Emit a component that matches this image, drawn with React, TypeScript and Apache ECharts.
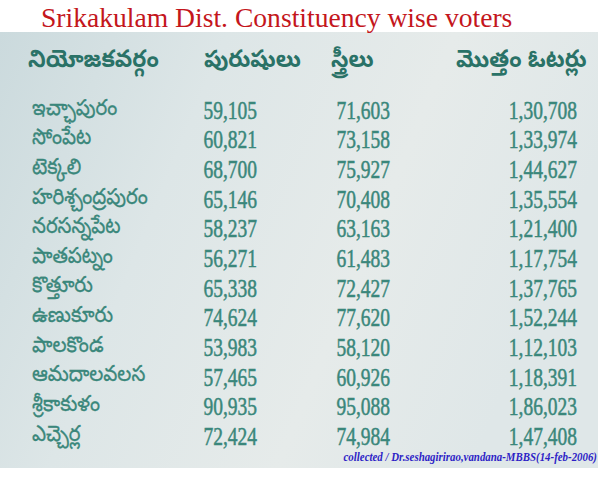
import React, { useEffect, useRef } from "react";
import * as echarts from "echarts";

const TITLE = "Srikakulam Dist. Constituency wise voters";
const HEADERS = ["నియోజకవర్గం", "పురుషులు", "స్త్రీలు", "మొత్తం ఓటర్లు"];
const CONSTITUENCIES = [
  "ఇచ్ఛాపురం",
  "సోంపేట",
  "టెక్కలి",
  "హరిశ్చంద్రపురం",
  "నరసన్నపేట",
  "పాతపట్నం",
  "కొత్తూరు",
  "ఉణుకూరు",
  "పాలకొండ",
  "ఆమదాలవలస",
  "శ్రీకాకుళం",
  "ఎచ్చెర్ల",
];
const MEN = [59105, 60821, 68700, 65146, 58237, 56271, 65338, 74624, 53983, 57465, 90935, 72424];
const WOMEN = [71603, 73158, 75927, 70408, 63163, 61483, 72427, 77620, 58120, 60926, 95088, 74984];
const TOTAL = [130708, 133974, 144627, 135554, 121400, 117754, 137765, 152244, 112103, 118391, 186023, 147408];
const FOOTER = "collected / Dr.seshagirirao,vandana-MBBS(14-feb-2006)";

// layout (pixel anchors of the columns along the hidden x axis)
const COL_X = [32, 257, 390, 577];
const COL_ALIGN = ["left", "right", "right", "right"];
const HEADER_X = [28, 204, 331, 456];
const TEAL = "#3a877b";
const TEAL_DARK = "#2a7267";
const TELUGU = '"Noto Sans Telugu", "Noto Sans", sans-serif';
const SERIF = '"Liberation Serif", "Times New Roman", serif';

function indian(n: number): string {
  const s = String(n);
  if (s.length <= 3) return s;
  const last3 = s.slice(-3);
  let rest = s.slice(0, -3);
  const parts: string[] = [];
  while (rest.length > 2) {
    parts.unshift(rest.slice(-2));
    rest = rest.slice(0, -2);
  }
  if (rest) parts.unshift(rest);
  return parts.join(",") + "," + last3;
}

export default function App() {
  const ref = useRef<HTMLDivElement>(null);
  useEffect(() => {
    if (!ref.current) return;
    const chart = echarts.init(ref.current, undefined, { renderer: "svg" });
    const data = CONSTITUENCIES.map((_, i) => [0, i]);
    chart.setOption({
      animation: false,
      backgroundColor: "#ffffff",
      grid: { left: 0, right: 0, top: 95.6, bottom: 26.7 },
      xAxis: { type: "value", min: 0, max: 606, show: false },
      yAxis: {
        type: "category",
        data: CONSTITUENCIES,
        inverse: true,
        show: false,
      },
      graphic: [
        {
          type: "rect",
          z: -10,
          shape: { x: 0, y: 32, width: 598, height: 436 },
          style: {
            fill: new echarts.graphic.LinearGradient(0, 0, 1, 0.3, [
              { offset: 0, color: "#cbdadd" },
              { offset: 0.35, color: "#dde6e7" },
              { offset: 0.7, color: "#e6ebea" },
              { offset: 1, color: "#dfe7e8" },
            ]),
          },
        },
        {
          type: "text",
          x: 41,
          y: 17,
          style: {
            text: TITLE,
            font: `normal 27.6px ${SERIF}`,
            fill: "#c4161c",
            verticalAlign: "middle",
          },
        },
        ...HEADERS.map((h, i) => ({
          type: "text",
          x: HEADER_X[i],
          y: 62,
          scaleX: 0.94,
          style: {
            text: h,
            font: `bold 24px ${TELUGU}`,
            fill: TEAL_DARK,
            verticalAlign: "middle",
          },
        })),
        {
          type: "text",
          x: 597,
          y: 457,
          scaleX: 0.87,
          style: {
            text: FOOTER,
            font: `italic bold 12.5px ${SERIF}`,
            fill: "#2e1fc6",
            align: "right",
            verticalAlign: "middle",
          },
        },
      ],
      series: [
        {
          type: "custom",
          z: 10,
          encode: { x: 0, y: 1 },
          data,
          renderItem: (params: any, api: any) => {
            const r = api.value(1);
            const i = params.dataIndex;
            const texts = [CONSTITUENCIES[i], indian(MEN[i]), indian(WOMEN[i]), indian(TOTAL[i])];
            return {
              type: "group",
              children: texts.map((t, c) => {
                const pt = api.coord([COL_X[c], r]);
                return c === 0
                  ? {
                      type: "text",
                      x: pt[0],
                      y: pt[1],
                      scaleX: 0.9,
                      style: {
                        text: t,
                        font: `normal 22px ${TELUGU}`,
                        fill: TEAL,
                        stroke: TEAL,
                        lineWidth: 0.3,
                        align: COL_ALIGN[c],
                        verticalAlign: "middle",
                      },
                    }
                  : {
                      type: "text",
                      x: pt[0],
                      y: pt[1],
                      scaleX: 0.78,
                      style: {
                        text: t,
                        font: `normal 25px ${SERIF}`,
                        fill: TEAL,
                        stroke: TEAL,
                        lineWidth: 0.5,
                        align: COL_ALIGN[c],
                        verticalAlign: "middle",
                      },
                    };
              }),
            };
          },
        },
      ],
    });
    return () => chart.dispose();
  }, []);
  return (
    <div
      ref={ref}
      style={{ position: "fixed", left: 0, top: 0, width: 606, height: 478 }}
    />
  );
}
